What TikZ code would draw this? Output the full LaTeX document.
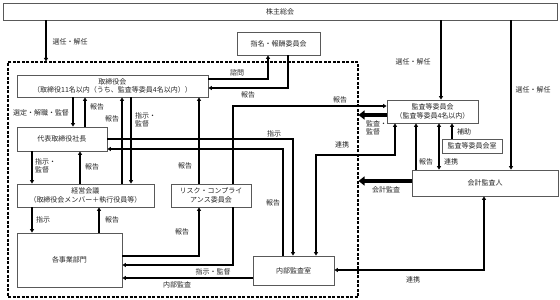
\documentclass[tikz,border=0pt]{standalone}
\usepackage{fontspec}
\setmainfont{Noto Sans CJK JP}
\usetikzlibrary{arrows.meta}
\begin{document}
\begin{tikzpicture}[x=1pt,y=-1pt,
  font=\fontsize{7}{8.5}\selectfont,
  box/.style={draw=black!65,line width=0.8pt,fill=white,align=center,inner sep=0pt,text=black!85},
  grp/.style={draw=black,dashed,line width=1.1pt,dash pattern=on 3pt off 1.5pt,inner sep=0pt},
  ln/.style={line width=1.3pt,black},
  arr/.style={ln,-{Triangle[width=4pt,length=3.5pt]}},
  barr/.style={ln,{Triangle[width=4pt,length=3.5pt]}-{Triangle[width=4pt,length=3.5pt]}},
  thk/.style={line width=4pt,-{Triangle[width=9pt,length=6pt]}},
  lbl/.style={inner sep=0pt,text=black!85,align=center}
]
\useasboundingbox (0,0) rectangle (560,300);
\node[grp,minimum width=350pt,minimum height=235pt] (grp) at (183,179.5) {};
\node[box,minimum width=554pt,minimum height=17pt] (sh) at (280,11.5) {株主総会};
\node[box,minimum width=83pt,minimum height=23pt] (nom) at (278.5,43.5) {指名・報酬委員会};
\node[box,minimum width=191pt,minimum height=22pt] (bod) at (112.5,86) {取締役会\\（取締役11名以内（うち、監査等委員4名以内））};
\node[box,minimum width=90pt,minimum height=24pt] (ceo) at (62,139) {代表取締役社長};
\node[box,minimum width=137pt,minimum height=23pt] (mgmt) at (85.5,195.5) {経営会議\\（取締役会メンバー＋執行役員等）};
\node[box,minimum width=80pt,minimum height=23pt] (risk) at (211,195.5) {リスク・コンプライ\\アンス委員会};
\node[box,minimum width=105pt,minimum height=54pt] (div) at (69.5,260) {各事業部門};
\node[box,minimum width=81pt,minimum height=29pt] (ia) at (293.5,270.5) {内部監査室};
\node[box,minimum width=91pt,minimum height=23pt] (ac) at (432.5,111.5) {監査等委員会\\（監査等委員4名以内）};
\node[box,minimum width=60pt,minimum height=14pt] (acr) at (472,146) {監査等委員会室};
\node[box,minimum width=146pt,minimum height=26pt] (ext) at (485,183) {会計監査人};

% shareholders
\draw[arr] (sh.south -| 46,0) -- (grp.north -| 46,0);
\draw[arr] (sh.south -| 441,0) -- (ac.north -| 441,0);
\draw[arr] (sh.south -| 511,0) -- (ext.north -| 511,0);
% nomination
\draw[arr] (bod.east |- 0,79) -| (nom.south -| 268,0);
\draw[arr] (nom.south -| 288,0) |- (bod.east |- 0,88);
% board - ceo - mgmt
\draw[arr] (bod.south -| 73,0) -- (ceo.north -| 73,0);
\draw[arr] (ceo.north -| 85,0) -- (bod.south -| 85,0);
\draw[arr] (mgmt.north -| 122,0) -- (bod.south -| 122,0);
\draw[arr] (bod.south -| 131,0) -- (mgmt.north -| 131,0);
\draw[arr] (ceo.south -| 32,0) -- (mgmt.north -| 32,0);
\draw[arr] (mgmt.north -| 80,0) -- (ceo.south -| 80,0);
\draw[arr] (mgmt.south -| 32,0) -- (div.north -| 32,0);
\draw[arr] (div.north -| 99,0) -- (mgmt.south -| 99,0);
% risk
\draw[arr] (risk.north -| 199,0) -- (bod.south -| 199,0);
\draw[arr] (risk.north -| 233,0) |- (ac.west |- 0,106);
\draw[arr] (div.east |- 0,256) -| (risk.south -| 199,0);
\draw[arr] (risk.south -| 233,0) |- (div.east |- 0,265);
% internal audit
\draw[arr] (ceo.east |- 0,139) -| (ia.north -| 293,0);
\draw[arr] (ia.north -| 283,0) |- (ceo.east |- 0,149);
\draw[arr] (ia.west |- 0,278) -- (div.east |- 0,278);
\draw[barr] (ac.south -| 395,0) -- (395,155) -| (ia.north -| 316,0);
% audit committee
\draw[thk] (ac.west |- 0,115) -- (grp.east |- 0,115);
\draw[arr] (ext.north -| 416,0) -- (ac.south -| 416,0);
\draw[barr] (ac.south -| 439,0) -- (ext.north -| 439,0);
\draw[arr] (acr.north -| 452,0) -- (ac.south -| 452,0);
\draw[thk] (ext.west |- 0,181) -- (grp.east |- 0,181);
\draw[barr] (ext.south -| 484,0) |- (ia.east |- 0,270);

% labels
\node[lbl] (l1) at (70,42) {選任・解任};
\node[lbl] (l2) at (413,62) {選任・解任};
\node[lbl] (l3) at (533,90) {選任・解任};
\node[lbl] (l4) at (237,73) {諮問};
\node[lbl] (l5) at (248,95) {報告};
\node[lbl] (l6) at (41,113) {選定・解職・監督};
\node[lbl] (l7) at (97,107) {報告};
\node[lbl] (l8) at (112,119) {報告};
\node[lbl,anchor=west,align=left] (l9) at (135,120) {指示・\\監督};
\node[lbl,anchor=west,align=left] (l10) at (35,166) {指示・\\監督};
\node[lbl] (l11) at (92,167) {報告};
\node[lbl] (l12) at (185,166) {報告};
\node[lbl] (l13) at (274,134) {指示};
\node[lbl] (l14) at (273,203) {報告};
\node[lbl] (l15) at (340,100) {報告};
\node[lbl,anchor=west,align=left] (l16) at (366,128) {監査・\\監督};
\node[lbl] (l17) at (342,145) {連携};
\node[lbl] (l18) at (426,162) {報告};
\node[lbl] (l19) at (451,162) {連携};
\node[lbl] (l20) at (464,132) {補助};
\node[lbl] (l21) at (386,190) {会計監査};
\node[lbl] (l22) at (413,280) {連携};
\node[lbl] (l23) at (43,220) {指示};
\node[lbl] (l24) at (112,220) {報告};
\node[lbl] (l25) at (182,232) {報告};
\node[lbl] (l26) at (213,272) {指示・監督};
\node[lbl] (l27) at (177,285) {内部監査};
\end{tikzpicture}
\end{document}
